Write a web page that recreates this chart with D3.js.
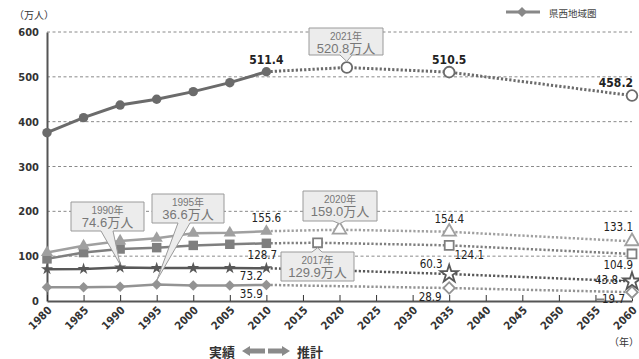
<!DOCTYPE html>
<html><head><meta charset="utf-8">
<script src="https://cdn.jsdelivr.net/npm/d3@7"></script>
<style>
body{margin:0;background:#fff;}
svg{display:block;}
</style></head>
<body>
<svg id="c" width="639" height="359"></svg>
<script>
// ---- data ----
const actualYears = [1980,1985,1990,1995,2000,2005,2010];
const kenseiActual = [375.4,409,437,450,467,487,511.4];
const triActual    = [108,123,134,140,151,152,155.6];
const sqActual     = [94,108,116,119,124,126.5,128.7];
const starActual   = [71,71.5,74.6,73.5,73.5,73.5,73.2];
const diaActual    = [30.5,30.5,32,36.6,34.5,34.5,35.9];

const kenseiProjYears = [2021,2035,2060];
const kenseiProj      = [520.8,510.5,458.2];
const triProjYears    = [2020,2035,2060];
const triProj         = [159.0,154.4,133.1];
const sqProjYears     = [2017,2035,2060];
const sqProj          = [129.9,124.1,104.9];
const starProjYears   = [2035,2060];
const starProj        = [60.3,43.8];
const diaProjYears    = [2035,2060];
const diaProj         = [28.9,19.7];

const xTicks = d3.range(1980,2061,5);
const yTicks = [0,100,200,300,400,500,600];
const legendLabel = "県西地域圏";

// ---- setup ----
const svg = d3.select("#c");
const x = d3.scaleLinear().domain([1980,2060]).range([47,632]);
const y = d3.scaleLinear().domain([0,600]).range([301,32]);
const NUM = "'Liberation Sans Narrow','DejaVu Sans Condensed','Liberation Sans',sans-serif";
const JP = "'Liberation Sans','Noto Sans CJK JP',sans-serif";

// gridlines
svg.append("g").selectAll("line").data(yTicks.filter(d=>d>0)).join("line")
  .attr("x1",x(1980)).attr("x2",x(2060)).attr("y1",d=>y(d)).attr("y2",d=>y(d))
  .attr("stroke","#8a8a8a").attr("stroke-width",1).attr("stroke-dasharray","3,2.5");

// axes
const yAxis = d3.axisLeft(y).tickValues(yTicks).tickSize(0).tickPadding(8);
svg.append("g").attr("transform",`translate(${x(1980)},0)`).call(yAxis)
  .call(g=>g.select(".domain").attr("stroke","#555").attr("stroke-width",2))
  .call(g=>g.selectAll("text").attr("font-family",NUM).attr("font-size",11).attr("font-weight","bold").attr("fill","#333"));

const xAxis = d3.axisBottom(x).tickValues(xTicks).tickSize(-6).tickSizeOuter(0).tickFormat(d3.format("d"));
const xg = svg.append("g").attr("transform",`translate(0,${y(0)})`).call(xAxis);
xg.select(".domain").attr("stroke","#555").attr("stroke-width",2);
xg.selectAll(".tick line").attr("stroke","#333").attr("stroke-width",1);
xg.selectAll(".tick text").attr("font-family",NUM).attr("font-size",11).attr("font-weight","bold").attr("fill","#333")
  .attr("text-anchor","end").attr("dy",0).attr("y",0)
  .attr("transform","translate(5,10) rotate(-45)");

// series
const series = [
  {a:kenseiActual, py:kenseiProjYears, p:kenseiProj, color:"#6b6b6b", sym:d3.symbolCircle, size:70, psize:90, w:3},
  {a:triActual, py:triProjYears, p:triProj, color:"#a0a0a0", sym:d3.symbolTriangle, size:65, psize:80, w:2.5},
  {a:sqActual, py:sqProjYears, p:sqProj, color:"#7f7f7f", sym:d3.symbolSquare, size:90, psize:80, w:2.5},
  {a:starActual, py:starProjYears, p:starProj, color:"#585858", sym:d3.symbolStar, size:45, psize:95, w:2.5},
  {a:diaActual, py:diaProjYears, p:diaProj, color:"#939393", sym:d3.symbolSquare, size:55, psize:65, w:2.5, rot:45}
];
const line = d3.line().x(d=>x(d[0])).y(d=>y(d[1]));
series.slice().reverse().forEach(s=>{
  const act = actualYears.map((yr,i)=>[yr,s.a[i]]);
  const proj = [[2010,s.a[s.a.length-1]]].concat(s.py.map((yr,i)=>[yr,s.p[i]]));
  svg.append("path").attr("d",line(proj)).attr("fill","none").attr("stroke",s.color)
    .attr("stroke-width",s.w).attr("stroke-dasharray","2.2,2");
  svg.append("path").attr("d",line(act)).attr("fill","none").attr("stroke",s.color).attr("stroke-width",s.w);
  svg.append("g").selectAll("path").data(act).join("path")
    .attr("d",d3.symbol().type(s.sym).size(s.size)())
    .attr("transform",d=>`translate(${x(d[0])},${y(d[1])}) rotate(${s.rot||0})`)
    .attr("fill",s.color);
  svg.append("g").selectAll("path").data(proj.slice(1)).join("path")
    .attr("d",d3.symbol().type(s.sym).size(s.psize)())
    .attr("transform",d=>`translate(${x(d[0])},${y(d[1])}) rotate(${s.rot||0})`)
    .attr("fill","#fff").attr("stroke",s.color).attr("stroke-width",1.8);
});

// value labels
const labels = [
  {yr:2010, v:511.4, dx:0, dy:-12, a:"middle", b:true},
  {yr:2035, v:510.5, dx:0, dy:-12, a:"middle", b:true},
  {yr:2060, v:458.2, dx:1, dy:-12.5, a:"end", b:true},
  {yr:2010, v:155.6, dx:0, dy:-13, a:"middle"},
  {yr:2010, v:128.7, dx:-4, dy:12, a:"middle"},
  {yr:2010, v:73.2, dx:-15, dy:8, a:"middle"},
  {yr:2010, v:35.9, dx:-15, dy:9.5, a:"middle"},
  {yr:2035, v:154.4, dx:0, dy:-13, a:"middle"},
  {yr:2035, v:124.1, dx:20, dy:10, a:"middle"},
  {yr:2035, v:60.3, dx:-18, dy:-10, a:"middle"},
  {yr:2035, v:28.9, dx:-19, dy:8.5, a:"middle"},
  {yr:2060, v:133.1, dx:1, dy:-14, a:"end"},
  {yr:2060, v:104.9, dx:1, dy:11, a:"end"},
  {yr:2060, v:43.8, dx:-14, dy:-1.4, a:"end"},
  {yr:2060, v:19.7, dx:-7, dy:7, a:"end"}
];
svg.append("g").selectAll("text").data(labels).join("text")
  .attr("x",d=>x(d.yr)+d.dx).attr("y",d=>y(d.v)+d.dy)
  .attr("text-anchor",d=>d.a).attr("dominant-baseline","central")
  .attr("font-family",NUM).attr("font-size",d=>d.b?12:11.5).attr("font-weight",d=>d.b?"bold":"normal")
  .attr("fill","#222").text(d=>d.v.toFixed(1));
svg.append("line").attr("x1",x(2060)-13).attr("x2",x(2060)-8).attr("y1",y(43.8)-1).attr("y2",y(43.8)-1).attr("stroke","#444");
svg.append("line").attr("x1",x(2055)+1).attr("x2",x(2055)+9).attr("y1",y(19.7)+7).attr("y2",y(19.7)+7).attr("stroke","#444");

// callouts
function callout(bx0,by0,bx1,by1,a,b,tx,ty,top,l1,l2){
  let p;
  if(!top) p=`M${bx0},${by0}H${bx1}V${by1}H${b}L${tx},${ty}L${a},${by1}H${bx0}Z`;
  else p=`M${bx0},${by0}H${a}L${tx},${ty}L${b},${by0}H${bx1}V${by1}H${bx0}Z`;
  const g=svg.append("g");
  g.append("path").attr("d",p).attr("fill","#ececec").attr("stroke","#9a9a9a").attr("stroke-width",1);
  const cx=(bx0+bx1)/2;
  g.append("text").attr("x",cx).attr("y",by0+12).attr("text-anchor","middle")
    .attr("font-family",JP).attr("font-size",10).attr("fill","#777").text(l1);
  g.append("text").attr("x",cx).attr("y",by0+25).attr("text-anchor","middle")
    .attr("font-family",JP).attr("font-size",13).attr("fill","#777").text(l2);
}
callout(309,28,383,55,340,352,x(2021),y(520.8)-6,false,"2021年","520.8万人");
callout(71,202,144,231,101,113,x(1990),y(74.6)-3,false,"1990年","74.6万人");
callout(152,194,224,223,178,190,x(1995),y(36.6)-4,false,"1995年","36.6万人");
callout(303,191,377,221,333,345,x(2020),y(159.0)-6,false,"2020年","159.0万人");
callout(281,252,354,281,312,322,x(2017),y(129.9)+5,true,"2017年","129.9万人");

// unit labels
svg.append("text").attr("x",14).attr("y",14).attr("dominant-baseline","central")
  .attr("font-family","'Noto Sans CJK JP',sans-serif").attr("font-size",10).attr("fill","#333").text("（万人）");
svg.append("text").attr("x",639).attr("y",341).attr("text-anchor","end").attr("dominant-baseline","central")
  .attr("font-family","'Noto Sans CJK JP',sans-serif").attr("font-size",10).attr("fill","#333").text("（年）");

// legend
svg.append("line").attr("x1",506).attr("x2",540).attr("y1",12).attr("y2",12).attr("stroke","#888").attr("stroke-width",3);
svg.append("path").attr("d",d3.symbol().type(d3.symbolSquare).size(50)()).attr("transform","translate(522,12) rotate(45)").attr("fill","#888");
svg.append("text").attr("x",549).attr("y",12.5).attr("dominant-baseline","central")
  .attr("font-family","'Noto Sans CJK JP',sans-serif").attr("font-size",9.5).attr("fill","#444").text(legendLabel);

// actual / projection arrows
svg.append("text").attr("x",235).attr("y",351).attr("text-anchor","end").attr("dominant-baseline","central")
  .attr("font-family","'Noto Sans CJK JP',sans-serif").attr("font-size",13).attr("font-weight","bold").attr("fill","#333").text("実績");
svg.append("text").attr("x",297).attr("y",351).attr("dominant-baseline","central")
  .attr("font-family","'Noto Sans CJK JP',sans-serif").attr("font-size",13).attr("font-weight","bold").attr("fill","#333").text("推計");
const ay=351;
svg.append("path").attr("d",`M242,${ay}L250,${ay-5}V${ay-2.5}H265V${ay+2.5}H250V${ay+5}Z`).attr("fill","#8a8a8a");
svg.append("path").attr("d",`M290,${ay}L282,${ay-5}V${ay-2.5}H268V${ay+2.5}H282V${ay+5}Z`).attr("fill","#8a8a8a");
</script>
</body></html>
